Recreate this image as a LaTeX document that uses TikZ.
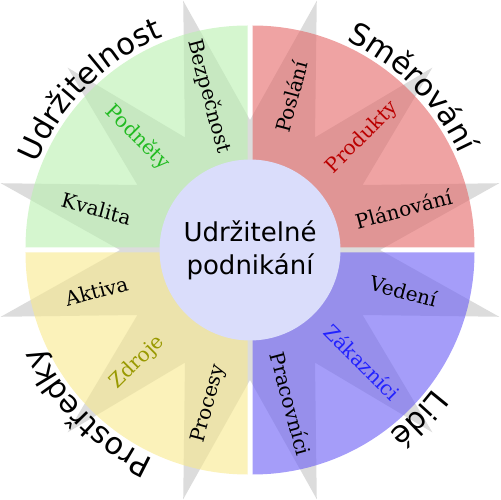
\documentclass[tikz,border=0pt]{standalone}
\usepackage{fontspec}
\setmainfont{DejaVu Serif}
\setsansfont{DejaVu Sans}
\usetikzlibrary{decorations.text}
\definecolor{qgreen}{RGB}{185,240,175}
\definecolor{qred}{RGB}{228,102,102}
\definecolor{qblue}{RGB}{105,92,245}
\definecolor{qyellow}{RGB}{248,233,140}
\definecolor{stargrey}{RGB}{220,220,220}
\definecolor{hubblue}{RGB}{218,221,251}
\definecolor{lgreen}{RGB}{34,187,34}
\definecolor{lred}{RGB}{187,0,0}
\definecolor{lblue}{RGB}{34,34,255}
\definecolor{lolive}{RGB}{153,153,0}
\tikzset{quad/.style = {fill=#1, fill opacity=0.6},
         item/.style = {font=\fontsize{11.4}{13}\selectfont, inner sep=0pt},
         hubtext/.style = {circle, fill=hubblue, minimum size=3.62cm, align=center,
                           font=\sffamily\fontsize{14.8}{18.8}\selectfont},
         ringtext/.style = {decorate,
                            decoration={text along path, text align=center,
                                        text={|\sffamily\fontsize{17.3}{20}\selectfont|#1}}}}

\begin{document}
\begin{tikzpicture}[x=0.02cm, y=0.02cm]
    \useasboundingbox (-250, -250) rectangle (250, 250);
    \clip (-250, -250) rectangle (250, 250);

    \fill [stargrey] (0:130) \foreach \a in {0, 30, ..., 330} { -- (\a+15:258) -- (\a+30:130) } -- cycle;

    \fill [quad=qgreen] (-2.5, 2.5) -- ++(-222, 0) arc[start angle=180, end angle=90, radius=222] -- cycle;
    \fill [quad=qred] (2.5, 2.5) -- ++(0, 222) arc[start angle=90, end angle=0, radius=222] -- cycle;
    \fill [quad=qblue] (2.5, -2.5) -- ++(222, 0) arc[start angle=0, end angle=-90, radius=222] -- cycle;
    \fill [quad=qyellow] (-2.5, -2.5) -- ++(0, -222) arc[start angle=270, end angle=180, radius=222] -- cycle;

    \node (hub) [hubtext] at (0, 0) {Udržitelné\\podnikání};

    \node (kvalita) [item, rotate=-15] at (165:159) {Kvalita};
    \node (podnety) [item, lgreen, rotate=-45] at (135:159) {Podněty};
    \node (bezpecnost) [item, rotate=-75] at (105:159) {Bezpečnost};
    \node (poslani) [item, rotate=75] at (75:159) {Poslání};
    \node (produkty) [item, lred, rotate=45] at (45:159) {Produkty};
    \node (planovani) [item, rotate=15] at (15:159) {Plánování};
    \node (vedeni) [item, rotate=-15] at (-15:159) {Vedení};
    \node (zakaznici) [item, lblue, rotate=-45] at (-45:159) {Zákazníci};
    \node (pracovnici) [item, rotate=-75] at (-75:159) {Pracovníci};
    \node (procesy) [item, rotate=75] at (-105:159) {Procesy};
    \node (zdroje) [item, lolive, rotate=45] at (-135:159) {Zdroje};
    \node (aktiva) [item, rotate=15] at (-165:159) {Aktiva};

    \path [ringtext=Udržitelnost] (205:230) arc[start angle=205, end angle=65, radius=230];
    \path [ringtext=Směrování] (115:230) arc[start angle=115, end angle=-25, radius=230];
    \path [ringtext=Lidé] (25:230) arc[start angle=25, end angle=-115, radius=230];
    \path [ringtext=Prostředky] (-65:230) arc[start angle=-65, end angle=-205, radius=230];
\end{tikzpicture}
\end{document}
